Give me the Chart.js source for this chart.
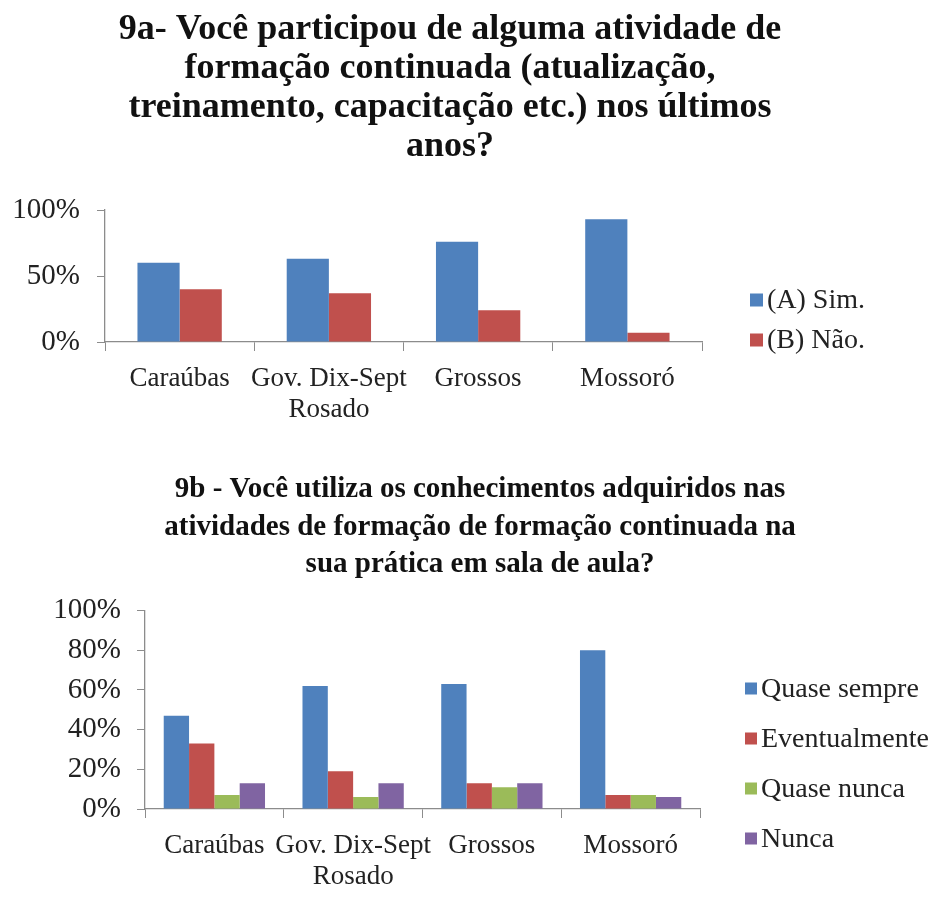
<!DOCTYPE html>
<html>
<head>
<meta charset="utf-8">
<script src="https://cdn.jsdelivr.net/npm/chart.js@4/dist/chart.umd.min.js"></script>
<style>
  html, body { margin: 0; padding: 0; background: #ffffff; }
  #c1 { position: absolute; left: 0; top: 0; }
  #c2 { position: absolute; left: 0; top: 440px; }
</style>
</head>
<body>
<canvas id="c1" width="937" height="440"></canvas>
<canvas id="c2" width="937" height="459"></canvas>
<script>
// Municípios (eixo das categorias)
const municipios = ['Caraúbas', ['Gov. Dix-Sept', 'Rosado'], 'Grossos', 'Mossoró'];

// 9a - participação em formação continuada (%)
const sim = [60, 63, 76, 93];
const nao = [40, 37, 24, 7];

// 9b - uso dos conhecimentos em sala de aula (%)
const quaseSempre = [47, 62, 63, 80];
const eventualmente = [33, 19, 13, 7];
const quaseNunca = [7, 6, 11, 7];
const nunca = [13, 13, 13, 6];

// Marcas do eixo Y
const ticks9a = [0, 50, 100];
const ticks9b = [0, 20, 40, 60, 80, 100];

const AZUL = '#4F81BD', VERMELHO = '#C0504D', VERDE = '#9BBB59', ROXO = '#8064A2';
const SERIF = "'Liberation Serif', 'Times New Roman', serif";
const EIXO = '#8c8c8c';
const TEXTO = '#222222';

// Legenda lateral desenhada ao lado da área do gráfico
const legendaLateral = {
  id: 'legendaLateral',
  afterDraw(chart, args, opts) {
    const ctx = chart.ctx;
    const area = chart.chartArea;
    ctx.save();
    ctx.font = opts.font;
    ctx.textBaseline = 'middle';
    ctx.textAlign = 'left';
    chart.data.datasets.forEach((ds, i) => {
      const x = area.right + opts.dx;
      const y = area.top + opts.dy + i * opts.spacing;
      ctx.fillStyle = ds.backgroundColor;
      ctx.fillRect(x, y - opts.box / 2, opts.box, opts.box);
      ctx.fillStyle = TEXTO;
      ctx.fillText(ds.label, x + opts.box + 4, y + 1);
    });
    ctx.restore();
  }
};

function eixoY(marcas, largura, tamFonte, espaco) {
  return {
    min: 0, max: 100,
    afterFit: s => { s.width = largura; },
    afterBuildTicks: s => { s.ticks = marcas.map(v => ({ value: v })); },
    ticks: {
      callback: v => v + '%',
      color: TEXTO,
      padding: espaco,
      font: { family: SERIF, size: tamFonte }
    },
    grid: { display: true, drawOnChartArea: false, drawTicks: true, tickLength: 8, color: EIXO, tickColor: EIXO },
    border: { display: true, color: EIXO, width: 1.3 }
  };
}

function eixoX(altura, tamFonte) {
  return {
    offset: true,
    afterFit: s => { s.height = altura; },
    ticks: {
      color: TEXTO,
      padding: 12,
      maxRotation: 0,
      autoSkip: false,
      font: { family: SERIF, size: tamFonte, lineHeight: 1.15 }
    },
    grid: { display: true, offset: true, drawOnChartArea: false, drawTicks: true, tickLength: 9, color: EIXO, tickColor: EIXO },
    border: { display: true, color: EIXO, width: 1.3 }
  };
}

function espacoDireito(largura) {
  return {
    type: 'linear',
    position: 'right',
    display: true,
    afterFit: s => { s.width = largura; },
    ticks: { display: false },
    grid: { display: false, drawTicks: false },
    border: { display: false }
  };
}

// Gráfico 9a
new Chart(document.getElementById('c1'), {
  type: 'bar',
  data: {
    labels: municipios,
    datasets: [
      { label: '(A) Sim.', data: sim, backgroundColor: AZUL },
      { label: '(B) Não.', data: nao, backgroundColor: VERMELHO }
    ]
  },
  options: {
    responsive: false,
    animation: false,
    events: [],
    layout: { padding: { left: 0, right: 37, top: 0, bottom: 0 } },
    datasets: { bar: { barPercentage: 1, categoryPercentage: 0.565 } },
    scales: {
      x: eixoX(98, 27),
      y: eixoY(ticks9a, 105, 29, 17),
      espaco: espacoDireito(198)
    },
    plugins: {
      legend: { display: false },
      tooltip: { enabled: false },
      title: {
        display: true,
        text: [
          '9a- Você participou de alguma atividade de',
          'formação continuada (atualização,',
          'treinamento, capacitação etc.) nos últimos',
          'anos?'
        ],
        color: '#111111',
        font: { family: SERIF, size: 36, weight: 'bold', lineHeight: '39px' },
        padding: { top: 10, bottom: 44 }
      },
      legendaLateral: { font: '28px ' + SERIF, dx: 48, dy: 90, spacing: 40, box: 13 }
    }
  },
  plugins: [legendaLateral]
});

// Gráfico 9b
new Chart(document.getElementById('c2'), {
  type: 'bar',
  data: {
    labels: municipios,
    datasets: [
      { label: 'Quase sempre', data: quaseSempre, backgroundColor: AZUL },
      { label: 'Eventualmente', data: eventualmente, backgroundColor: VERMELHO },
      { label: 'Quase nunca', data: quaseNunca, backgroundColor: VERDE },
      { label: 'Nunca', data: nunca, backgroundColor: ROXO }
    ]
  },
  options: {
    responsive: false,
    animation: false,
    events: [],
    layout: { padding: { left: 23, right: 0, top: 0, bottom: 0 } },
    datasets: { bar: { barPercentage: 1, categoryPercentage: 0.73 } },
    scales: {
      x: eixoX(90, 27),
      y: eixoY(ticks9b, 122, 29, 16),
      espaco: espacoDireito(237)
    },
    plugins: {
      legend: { display: false },
      tooltip: { enabled: false },
      title: {
        display: true,
        text: [
          '9b - Você utiliza os conhecimentos adquiridos nas',
          'atividades de formação de formação continuada na',
          'sua prática em sala de aula?'
        ],
        color: '#111111',
        font: { family: SERIF, size: 29, weight: 'bold', lineHeight: '37.5px' },
        padding: { top: 31, bottom: 27 }
      },
      legendaLateral: { font: '28px ' + SERIF, dx: 45, dy: 78, spacing: 50, box: 12 }
    }
  },
  plugins: [legendaLateral]
});
</script>
</body>
</html>
